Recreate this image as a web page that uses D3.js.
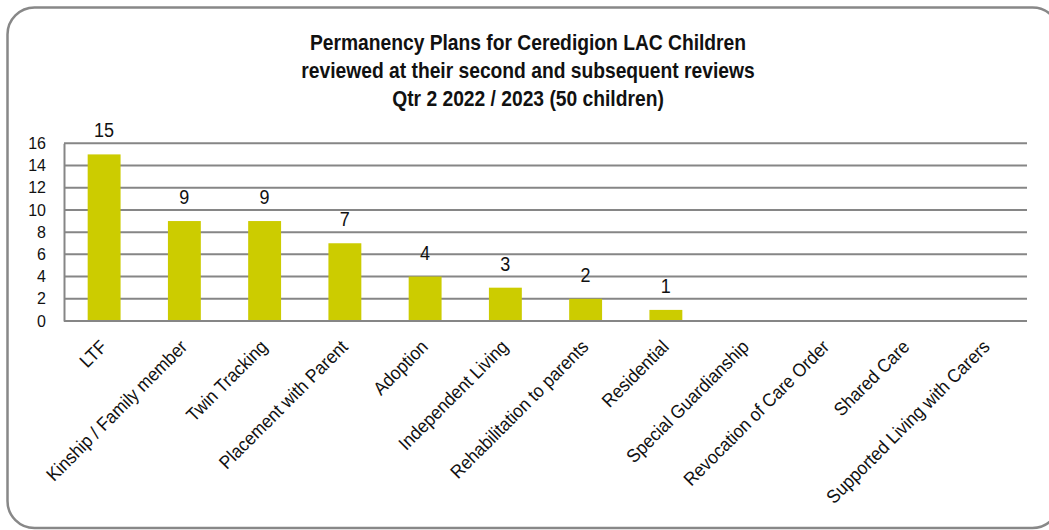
<!DOCTYPE html>
<html>
<head>
<meta charset="utf-8">
<script src="https://cdn.jsdelivr.net/npm/d3@7"></script>
<style>
  html, body { margin: 0; padding: 0; background: #fff; }
  svg { display: block; }
</style>
</head>
<body>
<svg id="chart" width="1049" height="530"></svg>
<script>
const titleLines = [
  "Permanency Plans for Ceredigion LAC Children",
  "reviewed at their second and subsequent reviews",
  "Qtr 2 2022 / 2023 (50 children)"
];
const categories = [
  "LTF", "Kinship / Family member", "Twin Tracking", "Placement with Parent",
  "Adoption", "Independent Living", "Rehabilitation to parents", "Residential",
  "Special Guardianship", "Revocation of Care Order", "Shared Care",
  "Supported Living with Carers"
];
const values = [15, 9, 9, 7, 4, 3, 2, 1, null, null, null, null];
const yTicks = [0, 2, 4, 6, 8, 10, 12, 14, 16];

const svg = d3.select("#chart");
const plot = { left: 64, right: 1027, top: 143.3, bottom: 321 };
const gridColor = "#868686";
const barColor = "#cccc00";
const font = "'Liberation Sans', Arial, sans-serif";

// Outer rounded frame
svg.append("rect")
  .attr("x", 7.5).attr("y", 7.5)
  .attr("width", 1052).attr("height", 520.5)
  .attr("rx", 27).attr("ry", 27)
  .attr("fill", "#fff")
  .attr("stroke", "#888").attr("stroke-width", 2.5);

// Title (condensed bold)
const cx = 528, sx = 0.875;
const title = svg.append("text")
  .attr("text-anchor", "middle")
  .attr("font-family", font)
  .attr("font-weight", "bold")
  .attr("font-size", 22)
  .attr("fill", "#111")
  .attr("transform", `translate(${cx},0) scale(${sx},1)`);
titleLines.forEach((t, i) => {
  title.append("tspan").attr("x", 0).attr("y", 50 + i * 28).text(t);
});

const x = d3.scaleBand().domain(categories).range([plot.left, plot.right]).padding(0);
const y = d3.scaleLinear().domain([0, 16]).range([plot.bottom, plot.top]);

// Grid lines
svg.append("g").selectAll("line").data(yTicks).join("line")
  .attr("x1", plot.left).attr("x2", plot.right)
  .attr("y1", d => y(d)).attr("y2", d => y(d))
  .attr("stroke", gridColor).attr("stroke-width", 2);

// Y axis
const yAxis = d3.axisLeft(y).tickValues(yTicks).tickSize(0).tickPadding(18);
const ya = svg.append("g").attr("transform", `translate(${plot.left},0)`).call(yAxis);
ya.select(".domain").attr("stroke", gridColor).attr("stroke-width", 2);
ya.selectAll("text")
  .attr("font-family", font).attr("font-size", 16).attr("fill", "#111");

// Bars
const barW = x.bandwidth() * 0.41;
const data = categories.map((c, i) => ({ c, v: values[i] })).filter(d => d.v != null);
svg.append("g").selectAll("rect").data(data).join("rect")
  .attr("x", d => x(d.c) + x.bandwidth() / 2 - barW / 2)
  .attr("width", barW)
  .attr("y", d => y(d.v))
  .attr("height", d => y(0) - y(d.v))
  .attr("fill", barColor);

// Redraw baseline over bars
svg.append("line")
  .attr("x1", plot.left).attr("x2", plot.right)
  .attr("y1", y(0)).attr("y2", y(0))
  .attr("stroke", gridColor).attr("stroke-width", 2);

// Data labels
svg.append("g").selectAll("text").data(data).join("text")
  .attr("x", d => x(d.c) + x.bandwidth() / 2)
  .attr("y", d => y(d.v) - 17)
  .attr("text-anchor", "middle")
  .attr("font-family", font).attr("font-size", 18).attr("fill", "#111")
  .attr("transform", d => `translate(0,${-(y(d.v) - 17) * 0.08}) scale(1,1.08)`)
  .text(d => d.v);

// X axis labels
const xAxis = d3.axisBottom(x).tickSize(0).tickPadding(0);
const xa = svg.append("g").attr("transform", `translate(0,${plot.bottom})`).call(xAxis);
xa.select(".domain").remove();
xa.selectAll("text")
  .attr("font-family", font).attr("font-size", 18).attr("fill", "#111")
  .attr("text-anchor", "end")
  .attr("dy", null)
  .attr("transform", "translate(4,27) rotate(-45) scale(0.96,1.04)")
  .attr("x", 0).attr("y", 0);
</script>
</body>
</html>
